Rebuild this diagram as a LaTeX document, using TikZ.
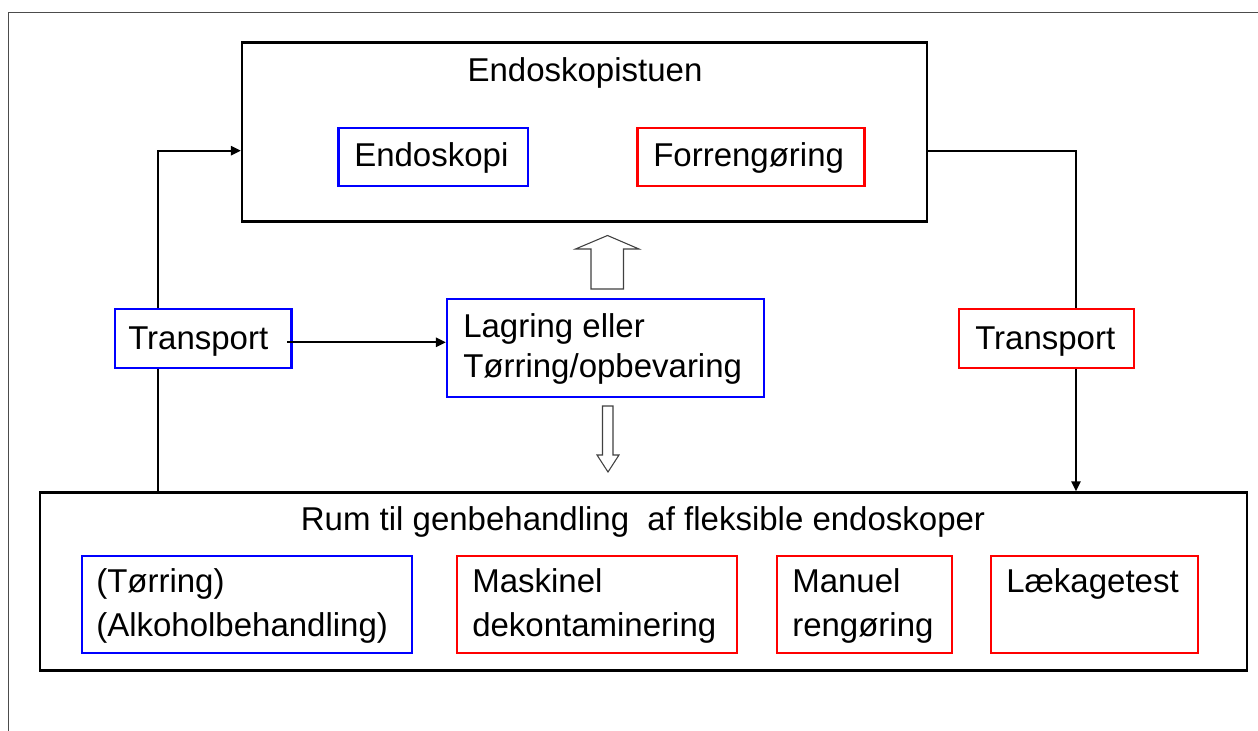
\documentclass[tikz,border=0pt]{standalone}
\usepackage{fontspec}
\setmainfont{Liberation Sans}
\usetikzlibrary{arrows.meta,fit}
\definecolor{pblue}{RGB}{0,0,255}
\definecolor{pred}{RGB}{255,0,0}
\begin{document}
\begin{tikzpicture}[x=0.75pt,y=-0.75pt,
  room/.style={draw=black, line width=1.8pt, inner sep=0pt},
  bbox/.style={draw=pblue, line width=1.7pt, inner sep=0pt},
  rbox/.style={draw=pred, line width=1.7pt, inner sep=0pt},
  txt/.style={font=\fontsize{24.75}{30}\selectfont, inner sep=0pt, anchor=base west},
  ctxt/.style={font=\fontsize{24.75}{30}\selectfont, inner sep=0pt, anchor=base},
  conn/.style={line width=1.4pt},
  arr/.style={line width=1.4pt, -{Triangle[length=7.5pt,width=7pt]}},
  hollow/.style={draw=black!75, line width=0.8pt, fill=white, line join=miter}]
\useasboundingbox (0,0) rectangle (1258,731);
% outer frame
\draw[black!70, line width=0.9pt] (8.3,731) -- (8.3,12.3) -- (1258,12.3);

% rooms
\node[room, fit={(242,42.7) (927,221.7)}] (top) {};
\node[room, fit={(40,492.5) (1247,670.5)}] (bot) {};

% top room contents
\node[ctxt] (ttl) at (585,81.7) {Endoskopistuen};
\node[bbox, fit={(338.5,128.3) (528,185.7)}] (endo) {};
\node[txt] (endot) at (354,166.7) {Endoskopi};
\node[rbox, fit={(637.5,128.3) (864.5,185.7)}] (forr) {};
\node[txt] (forrt) at (653,166.7) {Forrengøring};

% transports
\node[bbox, fit={(115,309.3) (291.5,368)}] (tl) {};
\node[txt] (tlt) at (128,349.3) {Transport};
\node[rbox, fit={(959,309.3) (1134,368)}] (tr) {};
\node[txt] (trt) at (975,349.3) {Transport};

% storage
\node[bbox, fit={(447,299.3) (764,396.7)}] (lag) {};
\node[txt] (lag1) at (463,337.5) {Lagring eller};
\node[txt] (lag2) at (463,378) {Tørring/opbevaring};

% bottom room contents
\node[ctxt] (bttl) at (643,530) {Rum til genbehandling~ af fleksible endoskoper};
\node[bbox, fit={(82,556) (412,653)}] (alk) {};
\node[txt] (alk1) at (96,592) {(Tørring)};
\node[txt] (alk2) at (96,636.7) {(Alkoholbehandling)};
\node[rbox, fit={(457,556) (737,653)}] (mask) {};
\node[txt] (mask1) at (472,592) {Maskinel};
\node[txt] (mask2) at (472,636.7) {dekontaminering};
\node[rbox, fit={(777,556) (952,653)}] (man) {};
\node[txt] (man1) at (792,592) {Manuel};
\node[txt] (man2) at (792,636.7) {rengøring};
\node[rbox, fit={(991,556) (1198,653)}] (laek) {};
\node[txt] (laekt) at (1006,592) {Lækagetest};

% connectors
\coordinate (cl) at (158,150.7);
\coordinate (cr) at (1076,150.7);
\coordinate (cm) at (287,342.3);
\draw[arr] (tl.north -| cl) |- (top.west |- cl);
\draw[conn] (tl.south -| cl) -- (bot.north -| cl);
\draw[arr] (cm) -- (lag.west |- cm);
\draw[conn] (top.east |- cr) -| (tr.north -| cr);
\draw[arr] (tr.south -| cr) -- (bot.north -| cr);

% hollow block arrows
\draw[hollow] (591,289) -- (591,249) -- (575.5,249) -- (607.5,235.5) -- (639,249) -- (623.5,249) -- (623.5,289) -- cycle;
\draw[hollow] (602.5,406) -- (613,406) -- (613,455) -- (619,455) -- (608,472) -- (597,455) -- (602.5,455) -- cycle;
\end{tikzpicture}
\end{document}
